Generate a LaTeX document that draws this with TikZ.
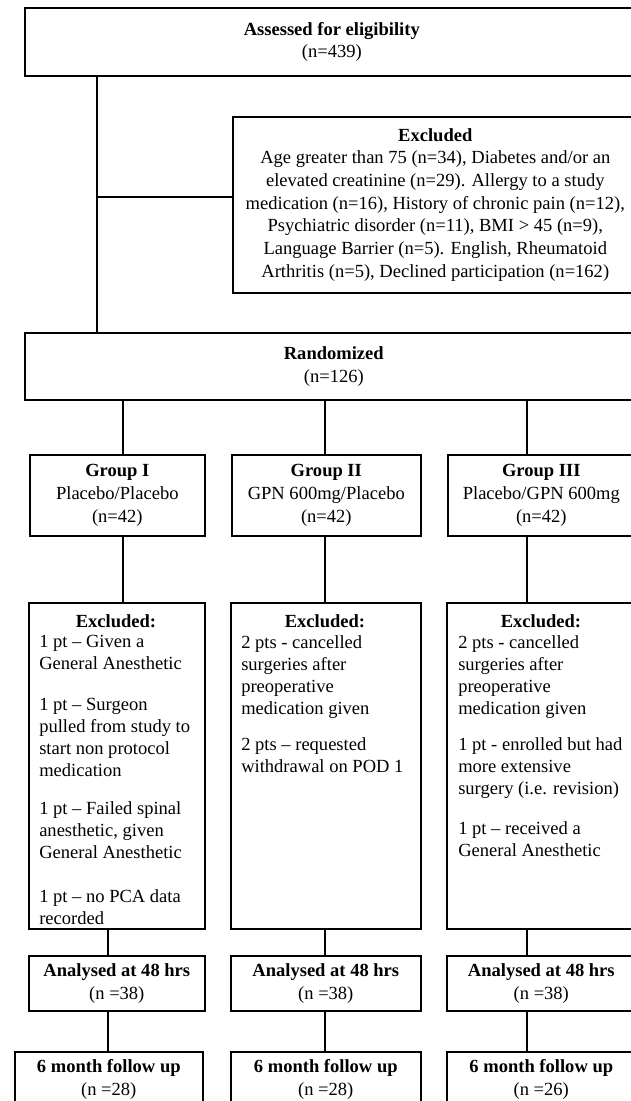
\documentclass[tikz,border=0pt]{standalone}
\usepackage{xcolor}
\usepackage{tikz}
\usetikzlibrary{shapes, arrows}
\usepackage{fontspec}
\setmainfont{Liberation Serif}

\tikzset{
  box/.style={draw, line width=1.2pt, inner sep=0pt, anchor=north west, align=center, font=\fontsize{13.9}{17}\selectfont},
  head/.style={inner sep=0pt, anchor=base, font=\fontsize{13.9}{16.5}\selectfont\bfseries},
  body/.style={inner sep=0pt, anchor=north west, align=left, font=\fontsize{13.9}{16.5}\selectfont},
  link/.style={line width=1.2pt}
}

\begin{document}
\begin{tikzpicture}[x=0.75pt,y=0.75pt,yscale=-1,xscale=1]

        \useasboundingbox (0,0) rectangle (631,1101);

        % enrolment
        \node [box, minimum width=460.5pt, minimum height=51pt] (assess) at (24,7) {\textbf{Assessed for eligibility}\\(n=439)};
        \node [box, minimum width=303.75pt, minimum height=132pt] (excl) at (232,116) {\textbf{Excluded}\\Age greater than 75 (n=34), Diabetes and/or an\\elevated creatinine (n=29). Allergy to a study\\medication (n=16), History of chronic pain (n=12),\\Psychiatric disorder (n=11), BMI > 45 (n=9),\\Language Barrier (n=5). English, Rheumatoid\\Arthritis (n=5), Declined participation (n=162)};
        \node [box, minimum width=463.5pt, minimum height=50.25pt] (random) at (24,332) {\textbf{Randomized}\\(n=126)};

        % allocation
        \node [box, minimum width=131.25pt, minimum height=60.75pt] (g1) at (29,454) {\textbf{Group I}\\Placebo/Placebo\\(n=42)};
        \node [box, minimum width=141.75pt, minimum height=60.75pt] (g2) at (231,454) {\textbf{Group II}\\GPN 600mg/Placebo\\(n=42)};
        \node [box, minimum width=140.25pt, minimum height=60.75pt] (g3) at (447,454) {\textbf{Group III}\\Placebo/GPN 600mg\\(n=42)};

        % exclusions after allocation
        \node [box, minimum width=132pt, minimum height=244.5pt] (e1) at (28,602) {};
        \node [box, minimum width=142.5pt, minimum height=244.5pt] (e2) at (230,602) {};
        \node [box, minimum width=141.75pt, minimum height=244.5pt] (e3) at (446,602) {};

        \node [head] (e1h) at (116,627) {Excluded:};
        \node [head] (e2h) at (325,627) {Excluded:};
        \node [head] (e3h) at (541,627) {Excluded:};

        \node [body] (e1t) at (39,635) {1 pt -- Given a\\General Anesthetic\\[14pt]1 pt -- Surgeon\\pulled from study to\\start non protocol\\medication\\[12pt]1 pt -- Failed spinal\\anesthetic, given\\General Anesthetic\\[17pt]1 pt -- no PCA data\\recorded};
        \node [body] (e2t) at (241,635) {2 pts - cancelled\\surgeries after\\preoperative\\medication given\\[11pt]2 pts -- requested\\withdrawal on POD 1};
        \node [body] (e3t) at (458,635) {2 pts - cancelled\\surgeries after\\preoperative\\medication given\\[11pt]1 pt - enrolled but had\\more extensive\\surgery (i.e. revision)\\[13pt]1 pt -- received a\\General Anesthetic};

        % analysis
        \node [box, minimum width=132pt, minimum height=41.25pt] (a1) at (28,955) {\textbf{Analysed at 48 hrs}\\(n =38)};
        \node [box, minimum width=142.5pt, minimum height=41.25pt] (a2) at (230,955) {\textbf{Analysed at 48 hrs}\\(n =38)};
        \node [box, minimum width=141.75pt, minimum height=41.25pt] (a3) at (446,955) {\textbf{Analysed at 48 hrs}\\(n =38)};

        \node [box, minimum width=141pt, minimum height=41.25pt] (f1) at (14,1051) {\textbf{6 month follow up}\\(n =28)};
        \node [box, minimum width=142.5pt, minimum height=41.25pt] (f2) at (230,1051) {\textbf{6 month follow up}\\(n =28)};
        \node [box, minimum width=141.75pt, minimum height=41.25pt] (f3) at (446,1051) {\textbf{6 month follow up}\\(n =26)};

        % connectors
        \coordinate (trunk) at (97,0);
        \coordinate (fork) at (97,197);
        \coordinate (colA) at (123,0);
        \coordinate (colAa) at (108,0);
        \coordinate (colB) at (325,0);
        \coordinate (colC) at (527,0);

        \draw [link] (assess.south -| trunk) -- (random.north -| trunk);
        \draw [link] (fork) -- (fork -| excl.west);

        \draw [link] (random.south -| colA) -- (g1.north -| colA);
        \draw [link] (random.south -| colB) -- (g2.north -| colB);
        \draw [link] (random.south -| colC) -- (g3.north -| colC);

        \draw [link] (g1.south -| colA) -- (e1.north -| colA);
        \draw [link] (g2.south -| colB) -- (e2.north -| colB);
        \draw [link] (g3.south -| colC) -- (e3.north -| colC);

        \draw [link] (e1.south -| colAa) -- (a1.north -| colAa);
        \draw [link] (e2.south -| colB) -- (a2.north -| colB);
        \draw [link] (e3.south -| colC) -- (a3.north -| colC);

        \draw [link] (a1.south -| colAa) -- (f1.north -| colAa);
        \draw [link] (a2.south -| colB) -- (f2.north -| colB);
        \draw [link] (a3.south -| colC) -- (f3.north -| colC);

\end{tikzpicture}
\end{document}
